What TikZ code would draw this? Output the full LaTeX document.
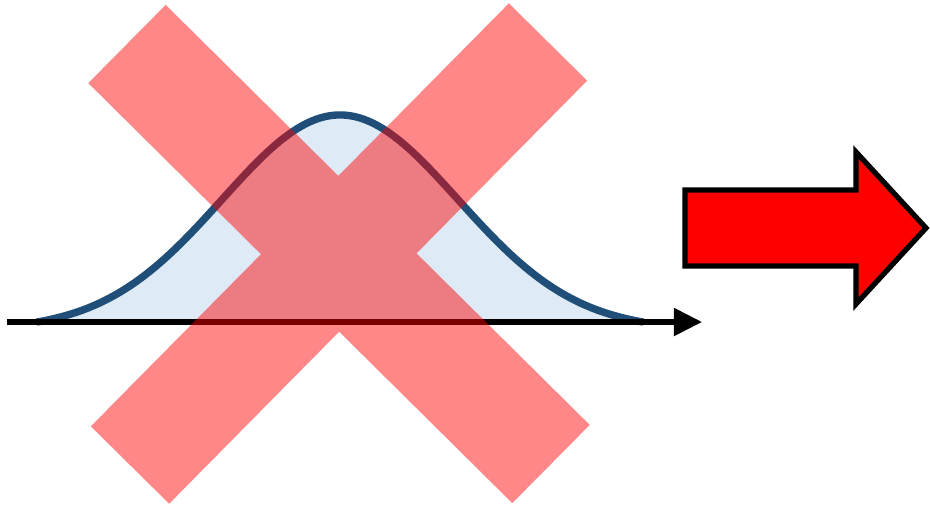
\documentclass[tikz,border=0pt]{standalone}
\usetikzlibrary{arrows.meta}
\definecolor{curveblue}{HTML}{1F4E79}
\definecolor{areablue}{HTML}{DEEBF7}

\begin{document}
\begin{tikzpicture}[x=0.01cm,y=-0.01cm,
    axis/.style={line width=1.45pt,-{Triangle[length=0.28cm,width=0.27cm]}},
    bell/.style={line width=2.1pt,curveblue},
    cross/.style={line width=1.1cm,red,draw opacity=0.47},
    bigarrow/.style={fill=red,draw=black,line width=1.5pt,line join=miter}]
  \useasboundingbox (0,0) rectangle (930,508);
  \def\mpos{340} \def\sig{118} \def\hgt{215}
  % density
  \coordinate (left) at (37,322);
  \coordinate (right) at (643,322);
  \fill[areablue] (left) -- plot[domain=-2.57:2.57,samples=80,smooth]
    ({\mpos+\sig*\x},{322-\hgt*(exp(-\x*\x/2)-0.037)}) -- (right) -- cycle;
  \draw[bell] plot[domain=-2.57:2.57,samples=80,smooth]
    ({\mpos+\sig*\x},{322-\hgt*(exp(-\x*\x/2)-0.037)});
  \coordinate (o) at (7,322);
  \coordinate (xend) at (702,322);
  \draw[axis] (o) -- (xend);
  % crossed out
  \coordinate (a1) at (127,44); \coordinate (a2) at (551,464);
  \coordinate (b1) at (548,42); \coordinate (b2) at (130,465);
  \draw[cross] (a1) -- (a2) (b1) -- (b2);
  % arrow to the right
  \draw[bigarrow] (685,190) -- (856,190) -- (856,152) -- (926,228)
    -- (856,304) -- (856,266) -- (685,266) -- cycle;
\end{tikzpicture}
\end{document}
